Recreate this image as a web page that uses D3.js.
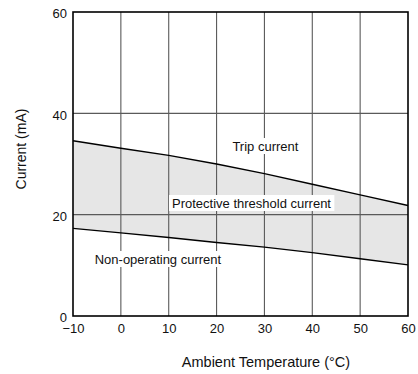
<!DOCTYPE html>
<html>
<head>
<meta charset="utf-8">
<script src="https://cdn.jsdelivr.net/npm/d3@7"></script>
<style>
  html, body { margin: 0; padding: 0; background: #fff; }
  svg { display: block; font-family: "Liberation Sans", Arial, Helvetica, sans-serif; }
</style>
</head>
<body>
<svg id="chart" width="418" height="374"></svg>
<script>
// Ambient temperature (°C) sample points
const temps = [-10, 0, 10, 20, 30, 40, 50, 60];
// Trip current (mA) – upper boundary of the band
const tripCurrent = [34.6, 33.1, 31.7, 30.0, 28.1, 26.0, 23.9, 21.8];
// Non-operating current (mA) – lower boundary of the band
const nonOperating = [17.3, 16.4, 15.5, 14.5, 13.6, 12.5, 11.3, 10.1];
// Protective threshold current (mA)
const threshold = 20;

const xTicks = [-10, 0, 10, 20, 30, 40, 50, 60];
const xTickLabels = ["\u221210", "0", "10", "20", "30", "40", "50", "60"];
const yTicks = [0, 20, 40, 60];

// Annotation labels, anchored in data coordinates
const labels = [
  { text: "Trip current", t: 30.2, mA: 33.55 },
  { text: "Protective threshold current", t: 27.3, mA: 22.3 },
  { text: "Non-operating current", t: 7.75, mA: 11.25 }
];

const svg = d3.select("#chart");
const margin = { left: 73, right: 10, top: 12, bottom: 58 };
const W = 418, H = 374;

const x = d3.scaleLinear().domain([-10, 60]).range([margin.left, W - margin.right]);
const y = d3.scaleLinear().domain([0, 60]).range([H - margin.bottom, margin.top]);

const rows = temps.map((t, i) => ({ t, hi: tripCurrent[i], lo: nonOperating[i] }));

// shaded operating band
svg.append("path")
  .datum(rows)
  .attr("fill", "#e6e6e6")
  .attr("d", d3.area().x(d => x(d.t)).y0(d => y(d.lo)).y1(d => y(d.hi)));

// grid (the threshold line is the 20 mA grid line)
const grid = svg.append("g").attr("stroke", "#5a5a5a").attr("stroke-width", 1.1);
grid.selectAll("line.v").data(xTicks.slice(1, -1)).join("line")
  .attr("x1", d => x(d)).attr("x2", d => x(d))
  .attr("y1", y(0)).attr("y2", y(60));
grid.selectAll("line.h").data(yTicks.slice(1, -1)).join("line")
  .attr("x1", x(-10)).attr("x2", x(60))
  .attr("y1", d => y(d)).attr("y2", d => y(d));

// boundary curves
const line = key => d3.line().x(d => x(d.t)).y(d => y(d[key]));
svg.append("path").datum(rows).attr("fill", "none").attr("stroke", "#000")
  .attr("stroke-width", 1.4).attr("d", line("hi"));
svg.append("path").datum(rows).attr("fill", "none").attr("stroke", "#000")
  .attr("stroke-width", 1.4).attr("d", line("lo"));

// annotations on white backgrounds
labels.forEach(l => {
  const g = svg.append("g");
  const txt = g.append("text")
    .attr("x", x(l.t)).attr("y", y(l.mA))
    .attr("text-anchor", "middle").attr("dominant-baseline", "central")
    .attr("font-size", 13).attr("fill", "#111").text(l.text);
  const b = txt.node().getBBox();
  g.insert("rect", "text")
    .attr("x", b.x - 3).attr("y", b.y - 0.5)
    .attr("width", b.width + 6).attr("height", b.height + 1)
    .attr("fill", "#fff");
});

// plot frame
svg.append("rect")
  .attr("x", x(-10)).attr("y", y(60))
  .attr("width", x(60) - x(-10)).attr("height", y(0) - y(60))
  .attr("fill", "none").attr("stroke", "#000").attr("stroke-width", 1.6);

// axes (labels only, frame drawn above)
const xAxis = svg.append("g")
  .attr("transform", `translate(0,${y(0)})`)
  .call(d3.axisBottom(x).tickValues(xTicks).tickSize(0).tickPadding(8)
    .tickFormat((d, i) => xTickLabels[i]));
xAxis.select(".domain").remove();
xAxis.selectAll("text").attr("font-size", 13).attr("fill", "#111")
  .attr("font-family", "Liberation Sans, Arial, sans-serif");

const yAxis = svg.append("g")
  .attr("transform", `translate(${x(-10)},0)`)
  .call(d3.axisLeft(y).tickValues(yTicks).tickSize(0).tickPadding(6));
yAxis.select(".domain").remove();
yAxis.selectAll("text").attr("font-size", 13).attr("fill", "#111").attr("dy", "0.45em")
  .attr("font-family", "Liberation Sans, Arial, sans-serif");

// axis titles
svg.append("text")
  .attr("x", 266).attr("y", 367)
  .attr("text-anchor", "middle").attr("font-size", 14.5).attr("fill", "#111")
  .text("Ambient Temperature (\u00B0C)");
svg.append("text")
  .attr("transform", "translate(26,149) rotate(-90)")
  .attr("text-anchor", "middle").attr("font-size", 14).attr("fill", "#111")
  .text("Current (mA)");
</script>
</body>
</html>
